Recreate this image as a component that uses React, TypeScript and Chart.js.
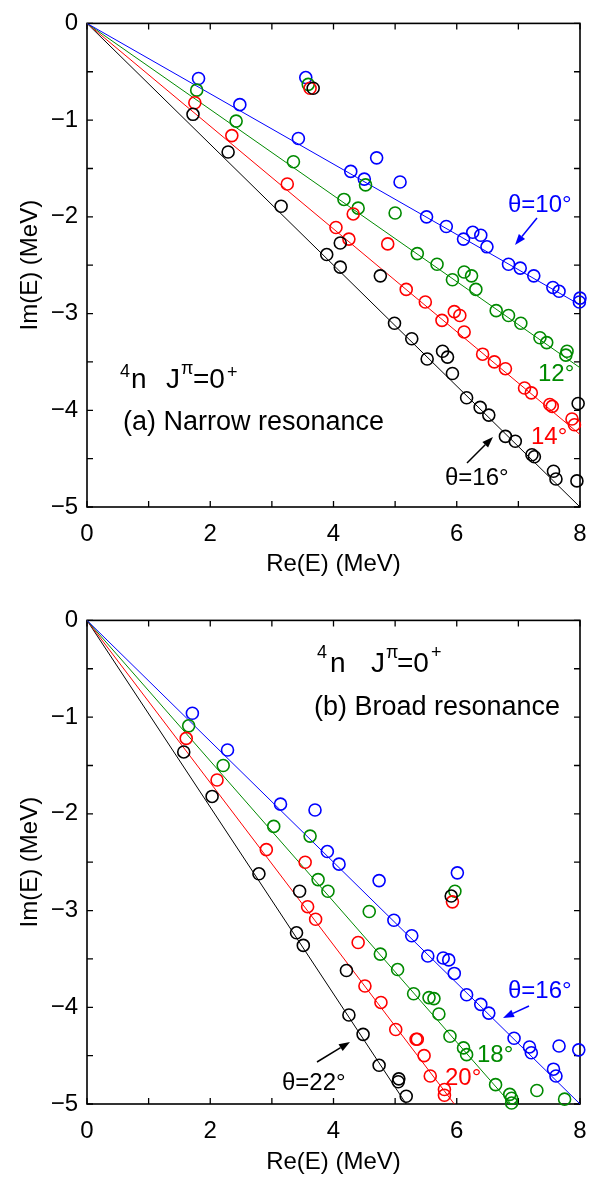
import React, { useEffect, useRef } from 'react';
import { Chart, registerables } from 'chart.js';

Chart.register(...registerables);

type P = [number, number];

// ---------------- Panel (a): narrow resonance (Re E, Im E) in MeV ----------------
const narrowTheta10: P[] = [
  [1.81, -0.57], [2.48, -0.84], [3.43, -1.19], [3.55, -0.56], [4.28, -1.53], [4.5, -1.61],
  [4.7, -1.39], [5.08, -1.64], [5.51, -2.0], [5.83, -2.1], [6.11, -2.23], [6.26, -2.16],
  [6.39, -2.19], [6.49, -2.31], [6.84, -2.49], [7.03, -2.53], [7.25, -2.61], [7.56, -2.73],
  [7.66, -2.77], [8.0, -2.84], [7.99, -2.88],
];
const narrowTheta12: P[] = [
  [1.78, -0.69], [2.42, -1.01], [3.35, -1.43], [3.59, -0.63], [4.17, -1.82], [4.4, -1.91],
  [4.52, -1.67], [5.0, -1.96], [5.36, -2.38], [5.68, -2.49], [5.93, -2.65], [6.12, -2.57],
  [6.24, -2.61], [6.31, -2.75], [6.64, -2.97], [6.84, -3.02], [7.04, -3.1], [7.35, -3.25],
  [7.46, -3.3], [7.79, -3.39], [7.77, -3.43],
];
const narrowTheta14: P[] = [
  [1.75, -0.82], [2.35, -1.16], [3.25, -1.66], [3.62, -0.67], [4.04, -2.11], [4.25, -2.23],
  [4.32, -1.97], [4.88, -2.28], [5.18, -2.75], [5.49, -2.88], [5.76, -3.07], [5.96, -2.98],
  [6.05, -3.02], [6.12, -3.19], [6.42, -3.42], [6.61, -3.5], [6.79, -3.57], [7.1, -3.77],
  [7.21, -3.82], [7.51, -3.94], [7.55, -3.96], [7.87, -4.09], [7.91, -4.15],
];
const narrowTheta16: P[] = [
  [1.72, -0.94], [2.29, -1.33], [3.15, -1.89], [3.67, -0.67], [3.89, -2.39], [4.11, -2.27],
  [4.11, -2.52], [4.76, -2.61], [4.99, -3.1], [5.27, -3.26], [5.52, -3.47], [5.77, -3.39],
  [5.85, -3.45], [5.93, -3.62], [6.16, -3.87], [6.38, -3.97], [6.52, -4.05], [6.79, -4.27],
  [6.95, -4.32], [7.22, -4.46], [7.26, -4.48], [7.57, -4.63], [7.61, -4.71], [7.95, -4.73],
  [7.97, -3.93],
];
// end points of the rotated-continuum lines (they start at the origin)
const narrowLineEnds: P[] = [[8, -2.91], [8, -3.56], [8, -4.25], [8, -5.0]];

// ---------------- Panel (b): broad resonance ----------------
const broadTheta16: P[] = [
  [1.71, -0.96], [2.28, -1.34], [3.14, -1.9], [3.7, -1.96], [3.9, -2.39], [4.09, -2.52],
  [4.74, -2.69], [4.98, -3.1], [5.27, -3.26], [5.53, -3.47], [5.78, -3.49], [5.87, -3.51],
  [5.96, -3.65], [6.01, -2.61], [6.16, -3.87], [6.39, -3.97], [6.52, -4.06], [6.93, -4.32],
  [7.18, -4.41], [7.21, -4.47], [7.57, -4.64], [7.61, -4.71], [7.66, -4.4], [7.98, -4.44],
];
const broadTheta18: P[] = [
  [1.65, -1.09], [2.21, -1.5], [3.03, -2.13], [3.62, -2.23], [3.75, -2.68], [3.91, -2.8],
  [4.58, -3.01], [4.76, -3.45], [5.04, -3.61], [5.3, -3.86], [5.55, -3.9], [5.63, -3.91],
  [5.71, -4.07], [5.89, -4.3], [5.97, -2.8], [6.11, -4.42], [6.16, -4.49], [6.63, -4.8],
  [6.86, -4.9], [6.89, -4.94], [6.89, -4.99], [7.3, -4.86], [7.75, -4.95],
];
const broadTheta20: P[] = [
  [1.61, -1.22], [2.11, -1.65], [2.91, -2.37], [3.54, -2.5], [3.58, -2.96], [3.71, -3.09],
  [4.4, -3.33], [4.51, -3.78], [4.77, -3.95], [5.01, -4.23], [5.34, -4.33], [5.36, -4.33],
  [5.47, -4.5], [5.57, -4.71], [5.8, -4.85], [5.8, -4.91], [5.93, -2.91],
];
const broadTheta22: P[] = [
  [1.57, -1.36], [2.03, -1.82], [2.79, -2.62], [3.4, -3.23], [3.45, -2.8], [3.51, -3.36],
  [4.21, -3.62], [4.25, -4.08], [4.48, -4.28], [4.74, -4.6], [5.06, -4.74], [5.05, -4.77],
  [5.18, -4.92], [5.91, -2.85],
];
const broadLineEnds: P[] = [[8, -5.0], [6.88, -5.0], [5.96, -5.0], [5.18, -5.0]];

// ---------------- axes ----------------
const xTickValues = [0, 2, 4, 6, 8];
const xTickLabels = ['0', '2', '4', '6', '8'];
const yTickValues = [0, -1, -2, -3, -4, -5];
const yTickLabels = ['0', '\u22121', '\u22122', '\u22123', '\u22124', '\u22125'];
const xTitle = 'Re(E) (MeV)';
const yTitle = 'Im(E) (MeV)';

const COLORS = ['#0000ff', '#008a00', '#ff0000', '#000000'];
const FONT = "'Liberation Sans', Arial, Helvetica, sans-serif";

type Seg = { t: string; x: number; y: number; size: number; color?: string };
type Arrow = { from: P; to: P; color: string };

interface PanelSpec {
  series: P[][];
  lineEnds: P[];
  height: number;
  xAxisHeight: number;
  titlePadBottom: number;
  texts: Seg[];
  arrows: Arrow[];
}

const TICK = 6;

const panelA: PanelSpec = {
  series: [narrowTheta10, narrowTheta12, narrowTheta14, narrowTheta16],
  lineEnds: narrowLineEnds,
  height: 597,
  xAxisHeight: 90,
  titlePadBottom: 18,
  texts: [
    { t: '4', x: 120, y: 377, size: 18 },
    { t: 'n', x: 131, y: 388, size: 28 },
    { t: 'J', x: 166, y: 388, size: 28 },
    { t: '\u03c0', x: 181, y: 374, size: 18 },
    { t: '=0', x: 193, y: 388, size: 28 },
    { t: '+', x: 227, y: 378, size: 18 },
    { t: '(a) Narrow resonance', x: 123, y: 430, size: 27 },
    { t: '\u03b8=10\u00b0', x: 508, y: 212, size: 24, color: COLORS[0] },
    { t: '12\u00b0', x: 538, y: 381, size: 24, color: COLORS[1] },
    { t: '14\u00b0', x: 531, y: 444, size: 24, color: COLORS[2] },
    { t: '\u03b8=16\u00b0', x: 445, y: 485, size: 24, color: COLORS[3] },
  ],
  arrows: [
    { from: [537, 218], to: [515, 245], color: COLORS[0] },
    { from: [467, 463], to: [493, 437], color: COLORS[3] },
  ],
};

const OFF = 597;
const panelB: PanelSpec = {
  series: [broadTheta16, broadTheta18, broadTheta20, broadTheta22],
  lineEnds: broadLineEnds,
  height: 587,
  xAxisHeight: 80,
  titlePadBottom: 7,
  texts: [
    { t: '4', x: 317, y: 658 - OFF, size: 18 },
    { t: 'n', x: 330, y: 672 - OFF, size: 28 },
    { t: 'J', x: 371, y: 672 - OFF, size: 28 },
    { t: '\u03c0', x: 386, y: 658 - OFF, size: 18 },
    { t: '=0', x: 397, y: 672 - OFF, size: 28 },
    { t: '+', x: 431, y: 658 - OFF, size: 18 },
    { t: '(b) Broad resonance', x: 314, y: 715 - OFF, size: 27 },
    { t: '\u03b8=16\u00b0', x: 508, y: 998 - OFF, size: 24, color: COLORS[0] },
    { t: '18\u00b0', x: 477, y: 1062 - OFF, size: 24, color: COLORS[1] },
    { t: '20\u00b0', x: 445, y: 1085 - OFF, size: 24, color: COLORS[2] },
    { t: '\u03b8=22\u00b0', x: 282, y: 1090 - OFF, size: 24, color: COLORS[3] },
  ],
  arrows: [
    { from: [529, 1006 - OFF], to: [503, 1018 - OFF], color: COLORS[0] },
    { from: [317, 1062 - OFF], to: [350, 1042 - OFF], color: COLORS[3] },
  ],
};

function makeChart(canvas: HTMLCanvasElement, spec: PanelSpec) {
  const datasets: any[] = [];
  spec.series.forEach((pts, i) => {
    datasets.push({
      data: [{ x: 0, y: 0 }, { x: spec.lineEnds[i][0], y: spec.lineEnds[i][1] }],
      showLine: true,
      borderColor: COLORS[i],
      borderWidth: 1,
      pointRadius: 0,
      order: 10,
    });
  });
  spec.series.forEach((pts, i) => {
    datasets.push({
      data: pts.map(([x, y]) => ({ x, y })),
      showLine: false,
      pointRadius: 6,
      pointBorderWidth: 1.6,
      pointBorderColor: COLORS[i],
      pointBackgroundColor: 'rgba(0,0,0,0)',
      clip: false,
      order: 4 - i,
    });
  });

  const framePlugin = {
    id: 'frameTicks',
    beforeDatasetsDraw(chart: any) {
      const { ctx, chartArea } = chart;
      const { left, top, right, bottom } = chartArea;
      const xs = chart.scales.x;
      const ys = chart.scales.y;
      ctx.save();
      ctx.strokeStyle = '#000';
      ctx.lineWidth = 1.6;
      ctx.strokeRect(left, top, right - left, bottom - top);
      ctx.lineWidth = 1.3;
      ctx.beginPath();
      xs.ticks.forEach((t: any) => {
        const px = xs.getPixelForValue(t.value);
        ctx.moveTo(px, bottom);
        ctx.lineTo(px, bottom - TICK);
        ctx.moveTo(px, top);
        ctx.lineTo(px, top + TICK);
      });
      ys.ticks.forEach((t: any) => {
        const py = ys.getPixelForValue(t.value);
        ctx.moveTo(left, py);
        ctx.lineTo(left + TICK, py);
        ctx.moveTo(right, py);
        ctx.lineTo(right - TICK, py);
      });
      ctx.stroke();
      ctx.restore();
    },
    afterDatasetsDraw(chart: any) {
      const { ctx } = chart;
      ctx.save();
      ctx.textBaseline = 'alphabetic';
      ctx.textAlign = 'left';
      spec.texts.forEach((s) => {
        ctx.font = `${s.size}px ${FONT}`;
        ctx.fillStyle = s.color || '#000';
        ctx.fillText(s.t, s.x, s.y);
      });
      spec.arrows.forEach((a) => {
        const [x1, y1] = a.from;
        const [x2, y2] = a.to;
        const ang = Math.atan2(y2 - y1, x2 - x1);
        const L = 11;
        const W = 4;
        const bx = x2 - L * Math.cos(ang);
        const by = y2 - L * Math.sin(ang);
        ctx.strokeStyle = a.color;
        ctx.fillStyle = a.color;
        ctx.lineWidth = 1.5;
        ctx.beginPath();
        ctx.moveTo(x1, y1);
        ctx.lineTo(bx, by);
        ctx.stroke();
        ctx.beginPath();
        ctx.moveTo(x2, y2);
        ctx.lineTo(bx + W * Math.sin(ang), by - W * Math.cos(ang));
        ctx.lineTo(bx - W * Math.sin(ang), by + W * Math.cos(ang));
        ctx.closePath();
        ctx.fill();
      });
      ctx.restore();
    },
  };

  return new Chart(canvas, {
    type: 'scatter',
    data: { datasets },
    options: {
      animation: false,
      responsive: false,
      devicePixelRatio: 1,
      events: [],
      layout: { padding: { top: 13, right: 24, left: 0, bottom: 0 } },
      plugins: { legend: { display: false }, tooltip: { enabled: false } },
      scales: {
        x: {
          type: 'linear',
          min: 0,
          max: 8,
          afterFit: (s: any) => {
            s.height = spec.xAxisHeight;
          },
          grid: { display: false, drawTicks: false },
          border: { display: false },
          ticks: {
            stepSize: 1,
            autoSkip: false,
            maxRotation: 0,
            padding: 13,
            color: '#000',
            font: { family: FONT, size: 24 },
            callback: (v: any) => {
              const i = xTickValues.indexOf(Number(v));
              return i >= 0 ? xTickLabels[i] : '';
            },
          },
          title: {
            display: true,
            text: xTitle,
            color: '#000',
            font: { family: FONT, size: 24 },
            padding: { top: 0, bottom: spec.titlePadBottom },
          },
        },
        y: {
          type: 'linear',
          min: -5,
          max: 0,
          afterFit: (s: any) => {
            s.width = 87;
          },
          grid: { display: false, drawTicks: false },
          border: { display: false },
          ticks: {
            stepSize: 0.5,
            autoSkip: false,
            padding: 9,
            color: '#000',
            font: { family: FONT, size: 24 },
            callback: (v: any) => {
              const i = yTickValues.indexOf(Number(v));
              return i >= 0 ? yTickLabels[i] : '';
            },
          },
          title: {
            display: true,
            text: yTitle,
            color: '#000',
            font: { family: FONT, size: 24 },
            padding: { top: 16, bottom: 0 },
          },
        },
      },
    } as any,
    plugins: [framePlugin],
  });
}

function Panel({ spec, top }: { spec: PanelSpec; top: number }) {
  const ref = useRef<HTMLCanvasElement | null>(null);
  useEffect(() => {
    if (!ref.current) return;
    const chart = makeChart(ref.current, spec);
    return () => chart.destroy();
  }, [spec]);
  return (
    <canvas
      ref={ref}
      width={604}
      height={spec.height}
      style={{ position: 'absolute', left: 0, top, width: 604, height: spec.height, display: 'block' }}
    />
  );
}

export default function App() {
  return (
    <div style={{ position: 'absolute', left: 0, top: 0, width: 604, height: 1184, background: '#fff' }}>
      <Panel spec={panelA} top={0} />
      <Panel spec={panelB} top={597} />
    </div>
  );
}
